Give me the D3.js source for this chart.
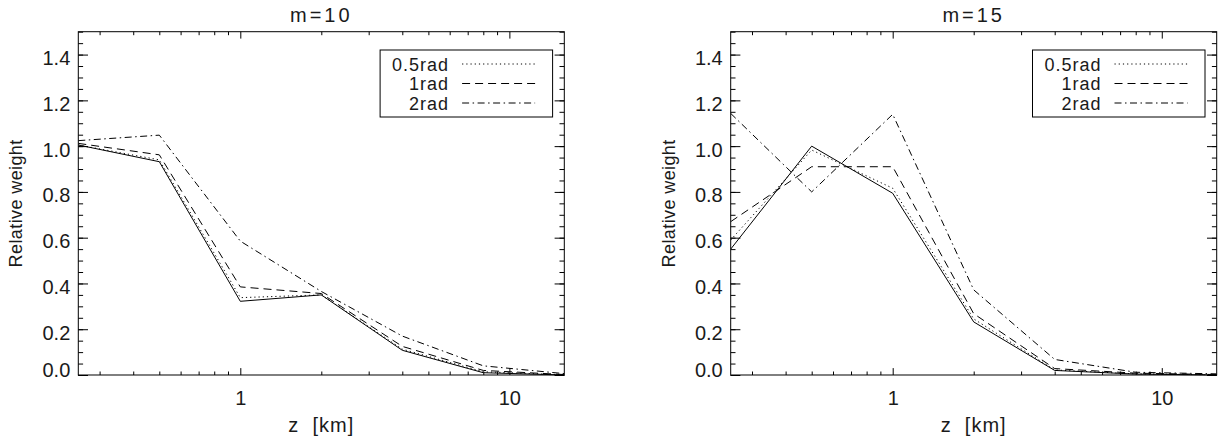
<!DOCTYPE html>
<html>
<head>
<meta charset="utf-8">
<script src="https://cdn.jsdelivr.net/npm/d3@7"></script>
<style>
  body { margin: 0; background: #fff; }
  svg text { font-family: "Liberation Sans", Arial, sans-serif; fill: #1a1a1a; }
</style>
</head>
<body>
<div id="chart"></div>
<script>
// altitude bins (km)
const zKm = [0.25, 0.5, 1, 2, 4, 8, 16];

// m = 10
const m10Solid = [1.005, 0.932, 0.322, 0.350, 0.108, 0.010, 0.000];
const m10Rad05 = [1.005, 0.940, 0.338, 0.350, 0.113, 0.014, 0.001];
const m10Rad1  = [1.012, 0.962, 0.385, 0.356, 0.125, 0.020, 0.002];
const m10Rad2  = [1.024, 1.048, 0.585, 0.365, 0.170, 0.040, 0.006];

// m = 15
const m15Solid = [0.550, 1.000, 0.794, 0.232, 0.020, 0.004, 0.000];
const m15Rad05 = [0.590, 0.983, 0.816, 0.245, 0.022, 0.005, 0.001];
const m15Rad1  = [0.670, 0.910, 0.910, 0.268, 0.028, 0.008, 0.002];
const m15Rad2  = [1.143, 0.800, 1.139, 0.372, 0.068, 0.012, 0.005];

const legendNames = ["0.5rad", "1rad", "2rad"];
const panelTitles = ["m=10", "m=15"];

const yMajorTicks = [0.0, 0.2, 0.4, 0.6, 0.8, 1.0, 1.2, 1.4];
const yMinorTicks = d3.range(0, 1.5001, 0.05);
const xMajorTicks = [1, 10];
const xMinorTicks = [0.3, 0.4, 0.5, 0.6, 0.7, 0.8, 0.9, 2, 3, 4, 5, 6, 7, 8, 9];

const width = 1227, height = 443;
const dashes = { solid: null, rad05: "1.2,3", rad1: "8,5", rad2: "7,3.5,1.5,3.5" };

const svg = d3.select("#chart").append("svg")
    .attr("width", width)
    .attr("height", height);

function drawPanel(left, title, series) {
    const top = 31.7, plotW = 486, plotH = 343.3;
    const g = svg.append("g").attr("transform", `translate(${left},${top})`);

    const x = d3.scaleLog().domain([0.25, 16]).range([0, plotW]);
    const y = d3.scaleLinear().domain([0, 1.5]).range([plotH, 0]);

    // x ticks (bottom with labels, top mirrored)
    g.append("g").attr("transform", `translate(0,${plotH})`)
        .call(d3.axisBottom(x).tickValues(xMajorTicks).tickSize(-6.9).tickPadding(16)
            .tickFormat(d3.format("d")));
    g.append("g").attr("transform", `translate(0,${plotH})`)
        .call(d3.axisBottom(x).tickValues(xMinorTicks).tickSize(-3.5).tickFormat(""));
    g.append("g")
        .call(d3.axisTop(x).tickValues(xMajorTicks).tickSize(-6.9).tickFormat(""));
    g.append("g")
        .call(d3.axisTop(x).tickValues(xMinorTicks).tickSize(-3.5).tickFormat(""));

    // y ticks (left with labels, right mirrored)
    const yAxis = g.append("g")
        .call(d3.axisLeft(y).tickValues(yMajorTicks).tickSize(-9.7).tickPadding(8)
            .tickFormat(d3.format(".1f")));
    g.append("g")
        .call(d3.axisLeft(y).tickValues(yMinorTicks).tickSize(-4.8).tickFormat(""));
    g.append("g").attr("transform", `translate(${plotW},0)`)
        .call(d3.axisRight(y).tickValues(yMajorTicks).tickSize(-9.7).tickFormat(""));
    g.append("g").attr("transform", `translate(${plotW},0)`)
        .call(d3.axisRight(y).tickValues(yMinorTicks).tickSize(-4.8).tickFormat(""));

    g.selectAll(".domain").remove();
    g.selectAll(".tick line").attr("stroke", "#000").attr("stroke-width", 1);
    g.selectAll(".tick text").attr("font-size", 20).attr("font-family", null);
    // y labels sit a little below their tick, 0.0 is lifted above the axis
    yAxis.selectAll(".tick text").attr("dy", d => d === 0 ? "0.05em" : "0.5em");

    // frame
    g.append("rect")
        .attr("width", plotW).attr("height", plotH)
        .attr("fill", "none").attr("stroke", "#000").attr("stroke-width", 1);

    // curves
    const line = d3.line().x((d, i) => x(zKm[i])).y(d => y(d));
    const clip = "clip-" + left.toFixed(0);
    g.append("clipPath").attr("id", clip).append("rect")
        .attr("width", plotW).attr("height", plotH + 1);
    series.forEach(s => {
        g.append("path")
            .datum(s.values)
            .attr("clip-path", `url(#${clip})`)
            .attr("d", line)
            .attr("fill", "none")
            .attr("stroke", "#000")
            .attr("stroke-width", 1)
            .attr("stroke-dasharray", s.dash);
    });

    // title and axis labels
    g.append("text")
        .attr("x", plotW / 2).attr("y", -10)
        .attr("text-anchor", "middle").attr("font-size", 20)
        .attr("letter-spacing", 3)
        .text(title);
    g.append("text")
        .attr("x", plotW / 2).attr("y", plotH + 57)
        .attr("text-anchor", "middle").attr("font-size", 20)
        .attr("letter-spacing", 1)
        .attr("xml:space", "preserve")
        .text("z  [km]");
    g.append("text")
        .attr("transform", `translate(-56,${plotH / 2}) rotate(-90)`)
        .attr("text-anchor", "middle").attr("font-size", 18)
        .attr("letter-spacing", 0.4)
        .text("Relative weight");

    // legend
    const lg = g.append("g").attr("transform", `translate(${plotW - 11.7 - 172.5},${50 - top})`);
    lg.append("rect")
        .attr("width", 172.5).attr("height", 67)
        .attr("fill", "#fff").attr("stroke", "#000").attr("stroke-width", 1);
    series.filter(s => s.name).forEach((s, i) => {
        const rowY = 14 + i * 19.5;
        lg.append("text")
            .attr("x", 69).attr("y", rowY + 6.5)
            .attr("text-anchor", "end").attr("font-size", 18)
            .attr("letter-spacing", 1)
            .text(s.name);
        lg.append("line")
            .attr("x1", 82).attr("x2", 155)
            .attr("y1", rowY).attr("y2", rowY)
            .attr("stroke", "#000").attr("stroke-width", 1)
            .attr("stroke-dasharray", s.dash);
    });
}

drawPanel(78.3, panelTitles[0], [
    { name: null, values: m10Solid, dash: dashes.solid },
    { name: legendNames[0], values: m10Rad05, dash: dashes.rad05 },
    { name: legendNames[1], values: m10Rad1, dash: dashes.rad1 },
    { name: legendNames[2], values: m10Rad2, dash: dashes.rad2 }
]);
drawPanel(730.7, panelTitles[1], [
    { name: null, values: m15Solid, dash: dashes.solid },
    { name: legendNames[0], values: m15Rad05, dash: dashes.rad05 },
    { name: legendNames[1], values: m15Rad1, dash: dashes.rad1 },
    { name: legendNames[2], values: m15Rad2, dash: dashes.rad2 }
]);
</script>
</body>
</html>
